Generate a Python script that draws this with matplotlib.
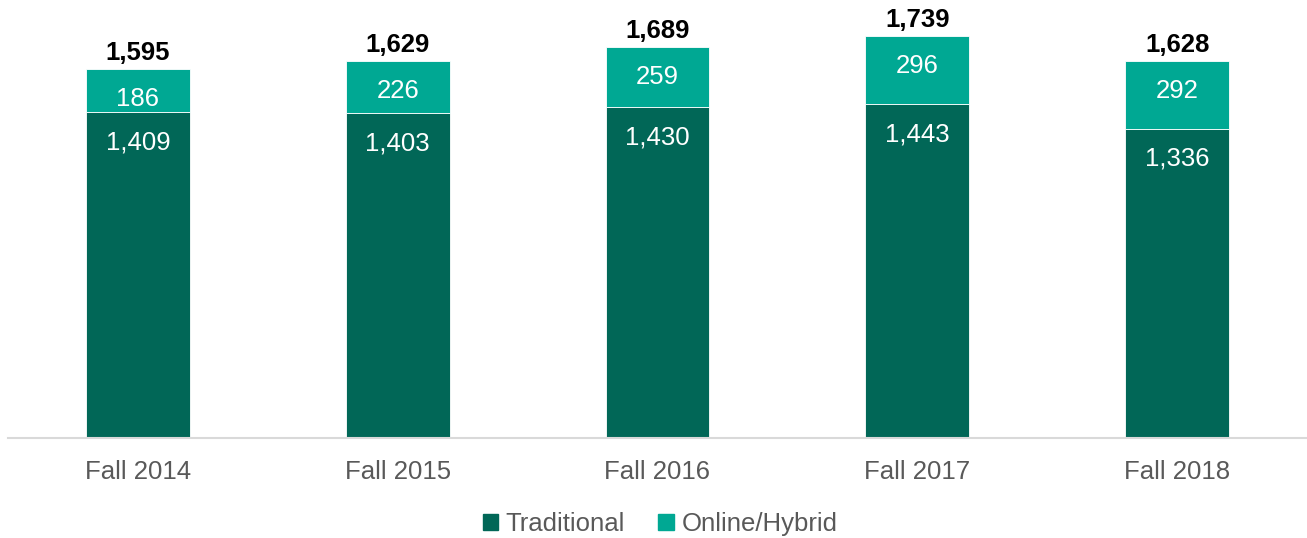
import matplotlib.pyplot as plt
from matplotlib.patches import Patch

plt.rcParams['font.family'] = ['Liberation Sans', 'DejaVu Sans']

# data
terms = ['Fall 2014', 'Fall 2015', 'Fall 2016', 'Fall 2017', 'Fall 2018']
traditional = [1409, 1403, 1430, 1443, 1336]
online = [186, 226, 259, 296, 292]
totals = [1595, 1629, 1689, 1739, 1628]

dark = '#016757'
teal = '#00A893'

fig = plt.figure(figsize=(13.07, 5.38), dpi=100)
ax = fig.add_axes([0.0061, 0.1859, 0.9939, 0.814])

x = range(len(terms))
ax.bar(x, traditional, width=0.4, color=dark, edgecolor='white', linewidth=0.6)
ax.bar(x, online, width=0.4, bottom=traditional, color=teal, edgecolor='white', linewidth=0.6)

ax.set_xlim(-0.5, 4.5)
ax.set_ylim(0, 1893)

fs = 18.5
for i in x:
    ax.annotate(f'{traditional[i]:,}', (i, traditional[i]), xytext=(0, -30), textcoords='offset pixels',
                ha='center', va='center', color='white', fontsize=fs)
    ax.annotate(f'{online[i]:,}', (i, totals[i]), xytext=(0, -30), textcoords='offset pixels',
                ha='center', va='center', color='white', fontsize=fs)
    ax.annotate(f'{totals[i]:,}', (i, totals[i]), xytext=(0, 16), textcoords='offset pixels',
                ha='center', va='center', color='black', fontsize=fs, fontweight='bold')

ax.set_xticks(list(x))
ax.set_xticklabels(terms, fontsize=fs, color='#595959')
ax.tick_params(axis='x', length=0, pad=16)
ax.set_yticks([])
for s in ['top', 'left', 'right']:
    ax.spines[s].set_visible(False)
ax.spines['bottom'].set_color('#d9d9d9')
ax.spines['bottom'].set_linewidth(1.5)

handles = [Patch(color=dark, label='Traditional'), Patch(color=teal, label='Online/Hybrid')]
fig.legend(handles=handles, loc='lower center', bbox_to_anchor=(0.505, -0.04), ncol=2, frameon=False,
           fontsize=fs, labelcolor='#595959', handlelength=0.6, handleheight=0.6,
           handletextpad=0.3, columnspacing=1.3)

fig.savefig('out.png', dpi=100)
